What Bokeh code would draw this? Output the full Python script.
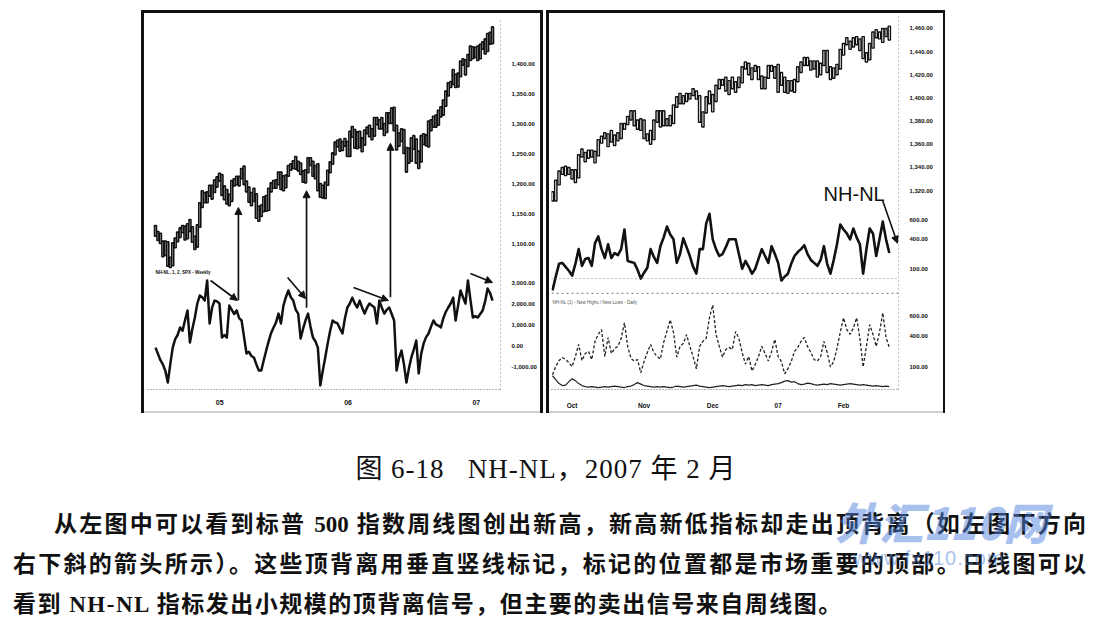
from bokeh.plotting import figure
from bokeh.models import Range1d, FixedTicker, Arrow, NormalHead, Label, Span, Spacer, Div
from bokeh.layouts import row, column
from bokeh.embed import file_html
from bokeh.resources import INLINE

# ---------------- data: weekly S&P 500 (left panel) ----------------
week_hi = [1130, 1120, 1117, 1104, 1104, 1103, 1077, 1101, 1109, 1119,
           1126, 1130, 1129, 1133, 1140, 1128, 1112, 1131, 1168, 1188,
           1185, 1186, 1197, 1197, 1206, 1211, 1217, 1215, 1196, 1190,
           1182, 1205, 1208, 1212, 1212, 1225, 1229, 1204, 1194, 1185,
           1192, 1183, 1162, 1164, 1178, 1180, 1192, 1201, 1205, 1206,
           1219, 1219, 1213, 1214, 1230, 1233, 1238, 1245, 1237, 1234,
           1221, 1223, 1243, 1243, 1237, 1230, 1233, 1200, 1197, 1202,
           1222, 1236, 1251, 1269, 1272, 1274, 1270, 1275, 1270, 1287,
           1295, 1290, 1286, 1287, 1276, 1289, 1294, 1297, 1291, 1310,
           1310, 1306, 1310, 1300, 1318, 1318, 1326, 1327, 1297, 1284,
           1291, 1290, 1260, 1259, 1276, 1280, 1274, 1254, 1280, 1283,
           1281, 1304, 1306, 1312, 1314, 1322, 1328, 1339, 1354, 1368,
           1370, 1390, 1382, 1384, 1404, 1408, 1406, 1415, 1429, 1428,
           1427, 1429, 1432, 1436, 1441, 1450, 1452, 1461]
week_lo = [1112, 1105, 1100, 1078, 1080, 1062, 1060, 1063, 1093, 1103,
           1110, 1118, 1106, 1108, 1120, 1102, 1090, 1094, 1127, 1160,
           1168, 1168, 1179, 1174, 1185, 1194, 1204, 1180, 1173, 1166,
           1163, 1170, 1196, 1198, 1196, 1208, 1198, 1186, 1169, 1163,
           1170, 1142, 1137, 1145, 1153, 1154, 1155, 1186, 1192, 1192,
           1198, 1190, 1188, 1193, 1212, 1222, 1225, 1224, 1221, 1215,
           1202, 1201, 1218, 1230, 1212, 1208, 1188, 1177, 1176, 1175,
           1197, 1218, 1232, 1248, 1261, 1254, 1255, 1262, 1245, 1245,
           1277, 1259, 1258, 1260, 1253, 1264, 1283, 1278, 1273, 1279,
           1298, 1291, 1291, 1280, 1285, 1300, 1300, 1288, 1256, 1262,
           1270, 1250, 1219, 1234, 1237, 1257, 1234, 1225, 1236, 1265,
           1263, 1261, 1288, 1294, 1294, 1297, 1311, 1314, 1329, 1346,
           1360, 1365, 1360, 1361, 1378, 1397, 1381, 1395, 1405, 1408,
           1410, 1405, 1408, 1424, 1416, 1420, 1432, 1433]
week_nhnl = [-100, -400, -700, -900, -1200, -1760, -900, -100, 300, 500,
             860, 700, 1200, 1670, 140, 800, 1330, 2000, 2380, 2300,
             2140, 3100, 1050, 1800, 2140, 2100, 2000, 380, 500, 380,
             1900, 1700, 1500, 1670, 1300, 1190, 400, -380, -300, -500,
             -570, -900, -1190, -1190, -700, -240, 200, 600, 860, 1100,
             1520, 1050, 1900, 2300, 2620, 2300, 2140, 1700, 1520, 330,
             800, 1200, 1520, 900, 380, 200, -100, -1900, -1200, -570,
             100, 700, 1190, 1100, 1050, 800, 570, 1300, 1810, 2000,
             2280, 2000, 1810, 2140, 1800, 1520, 1800, 2000, 1900, 1810,
             1050, 2140, 1800, 1520, 1700, 1810, 1500, 1190, -1190, -600,
             -240, -900, -1760, -1100, -570, -200, 240, -1330, -400, 100,
             400, 570, 900, 1190, 1000, 950, 860, 1300, 1600, 1810,
             2000, 2280, 1190, 1900, 2620, 2300, 2000, 3100, 2200, 1330,
             1400, 1330, 1500, 1670, 2100, 2710, 2500, 2140]
week_year_ticks = [26.1, 78.3, 130.4]
week_year_labels = ["05", "06", "07"]
left_price_ticks = [1100, 1150, 1200, 1250, 1300, 1350, 1400]
left_nhnl_ticks = [3000, 2000, 1000, 0, -1000]
# divergence markers (week index, NH-NL start, price tip)
div_weeks = [33.7, 61.4, 95.5]
div_nhnl = [2150, 1800, 2300]
div_price = [1160, 1188, 1267]
# slanted arrows: (week0, nhnl0, week1, nhnl1)
slant = [(22.4, 3095, 33.3, 2143), (53.7, 3238, 61.0, 2238),
         (80.5, 2762, 94.7, 2143), (128.0, 3429, 137.0, 3000)]

# ---------------- data: daily S&P 500 (right panel) ----------------
day_hi = [1319, 1329, 1337, 1340, 1341, 1340, 1338, 1338, 1351, 1356,
          1353, 1355, 1355, 1354, 1364, 1367, 1370, 1369, 1372, 1368,
          1370, 1378, 1378, 1384, 1389, 1389, 1381, 1382, 1381, 1369,
          1372, 1381, 1389, 1389, 1389, 1382, 1385, 1394, 1401, 1404,
          1402, 1404, 1404, 1408, 1406, 1402, 1388, 1401, 1406, 1403,
          1411, 1416, 1416, 1418, 1415, 1418, 1414, 1418, 1427, 1431,
          1430, 1426, 1428, 1427, 1419, 1418, 1428, 1428, 1427, 1429,
          1422, 1418, 1415, 1415, 1416, 1427, 1431, 1435, 1435, 1432,
          1432, 1432, 1430, 1441, 1441, 1427, 1426, 1429, 1442, 1447,
          1452, 1449, 1452, 1453, 1451, 1453, 1439, 1447, 1457, 1459,
          1457, 1460, 1460, 1462]
day_lo = [1311, 1311, 1325, 1334, 1333, 1334, 1330, 1327, 1331, 1349,
          1345, 1348, 1349, 1344, 1350, 1361, 1365, 1358, 1362, 1359,
          1363, 1365, 1373, 1377, 1381, 1376, 1373, 1372, 1365, 1363,
          1360, 1364, 1379, 1375, 1376, 1376, 1376, 1378, 1392, 1395,
          1395, 1397, 1399, 1402, 1399, 1379, 1375, 1387, 1395, 1388,
          1397, 1408, 1411, 1406, 1403, 1408, 1405, 1409, 1413, 1425,
          1420, 1416, 1423, 1416, 1408, 1408, 1417, 1423, 1417, 1405,
          1411, 1405, 1404, 1406, 1405, 1414, 1422, 1428, 1428, 1424,
          1425, 1418, 1420, 1428, 1422, 1416, 1417, 1420, 1425, 1437,
          1446, 1442, 1444, 1446, 1441, 1434, 1431, 1433, 1443, 1452,
          1451, 1448, 1453, 1450]
day_nhnl = [-120, 20, 150, 160, 120, 80, 30, 150, 300, 130,
            200, 210, 130, 360, 430, 300, 210, 350, 210, 260,
            240, 300, 500, 180, 170, 160, 90, 0, 60, 110,
            300, 220, 160, 330, 420, 530, 450, 400, 160, 250,
            410, 320, 230, 120, 50, 300, 300, 560, 660, 400,
            300, 230, 250, 320, 400, 400, 400, 250, 100, 180,
            120, 50, 100, 200, 300, 230, 160, 330, 250, 160,
            -20, 20, 50, 150, 230, 270, 300, 340, 250, 190,
            160, 130, 190, 330, 150, 50, 190, 350, 550, 500,
            460, 400, 510, 420, 350, 50, 300, 510, 460, 230,
            400, 580, 400, 260]
day_nh = [20, 100, 160, 190, 170, 140, 100, 200, 320, 160,
          230, 250, 170, 350, 420, 466, 200, 388, 230, 280,
          300, 380, 534, 300, 180, 155, 170, 40, 150, 240,
          320, 240, 200, 175, 340, 450, 563, 440, 194, 300,
          330, 417, 300, 200, 78, 300, 350, 380, 583, 709,
          420, 300, 194, 270, 290, 270, 447, 380, 240, 126,
          200, 58, 120, 200, 301, 230, 155, 250, 369, 200,
          150, 29, 80, 150, 250, 291, 350, 388, 300, 240,
          170, 155, 200, 350, 240, 97, 150, 280, 440, 583,
          466, 420, 480, 583, 380, 97, 300, 515, 420, 300,
          440, 631, 388, 291]
day_nl = [130, 90, 50, 30, 35, 70, 100, 80, 50, 30,
          20, 15, 20, 15, 10, 15, 20, 15, 20, 25,
          20, 15, 10, 20, 25, 40, 60, 45, 30, 25,
          20, 15, 20, 15, 20, 15, 10, 15, 25, 20,
          15, 20, 25, 30, 35, 25, 20, 15, 10, 15,
          20, 25, 30, 25, 20, 25, 30, 35, 30, 40,
          35, 40, 30, 35, 40, 35, 30, 40, 45, 50,
          60, 75, 80, 65, 70, 50, 40, 45, 55, 50,
          40, 35, 40, 45, 40, 50, 45, 40, 35, 40,
          45, 50, 45, 40, 35, 40, 35, 30, 25, 30,
          25, 20, 25, 20]
day_month_ticks = [6, 28, 49, 69, 89]
day_month_labels = ["Oct", "Nov", "Dec", "07", "Feb"]
right_price_ticks = [1320, 1340, 1360, 1380, 1400, 1420, 1440, 1460]
right_nhnl_ticks = [600, 400, 100]
right_nh_ticks = [600, 400, 100]

caption = "图 6-18   NH-NL，2007 年 2 月"
para_lines = [
    "从左图中可以看到标普 500 指数周线图创出新高，新高新低指标却走出顶背离（如左图下方向",
    "右下斜的箭头所示）。这些顶背离用垂直竖线标记，标记的位置都是市场重要的顶部。日线图可以",
    "看到 NH-NL 指标发出小规模的顶背离信号，但主要的卖出信号来自周线图。",
]

FONT = "Liberation Sans"
INK = "#111111"


def remap(v, src, dst):
    return round(dst.start + (v - src.start) * (dst.end - dst.start) / (src.end - src.start), 6)


def fmt(v):
    return f"{v:,.2f}"


def base_fig(w, h, xr, yr, mbl, mbr, mbt, mbb):
    p = figure(width=w, height=h, x_range=xr, y_range=yr, y_axis_location="right",
               output_backend="svg", toolbar_location=None,
               min_border_left=mbl, min_border_right=mbr,
               min_border_top=mbt, min_border_bottom=mbb)
    p.grid.visible = False
    p.outline_line_color = None
    p.background_fill_color = "white"
    p.border_fill_color = "white"
    for ax in (p.xaxis[0], p.yaxis[0]):
        ax.major_tick_line_color = None
        ax.minor_tick_line_color = None
        ax.major_label_text_font = FONT
        ax.major_label_text_font_style = "bold"
        ax.major_label_text_color = INK
    p.yaxis[0].axis_line_color = "#888888"
    p.yaxis[0].axis_line_dash = "1 3"
    p.yaxis[0].major_label_text_font_size = "6px"
    p.yaxis[0].major_label_standoff = 5
    p.xaxis[0].axis_line_color = "#666666"
    p.xaxis[0].axis_line_dash = "1 2"
    p.xaxis[0].major_label_text_font_size = "7px"
    p.xaxis[0].major_label_standoff = 4
    return p


def bar(w, h, color=INK):
    """A solid strip used for the scanned panel borders."""
    return Spacer(width=w, height=h, styles={"background-color": color})


def value_box(p, x, y, txt, yname="default"):
    p.add_layout(Label(x=x, y=y, y_range_name=yname, text=txt, text_font=FONT,
                       text_font_size="5px", text_font_style="bold", text_color="white",
                       text_baseline="middle", background_fill_color="black",
                       padding=2))


def head():
    return NormalHead(size=7, fill_color=INK, line_color=INK, line_width=1)


# ---------------- left panel (weekly) ----------------
weeks = list(range(len(week_hi)))
lp = base_fig(396, 398, Range1d(-3.252, 140.24), Range1d(856.67, 1475.0), 3, 40, 5, 22)
lp.extra_y_ranges = {"nhw": Range1d(-2095.2, 15571.4)}

lp.vbar(x=weeks, bottom=week_lo, top=week_hi, width=0.8,
        fill_color="white", line_color=INK, line_width=1.6)
lp.line(weeks, week_nhnl, y_range_name="nhw", line_color=INK, line_width=2.5, line_join="round")

lticks = list(left_price_ticks)
llabels = {t: fmt(t) for t in left_price_ticks}
for v in left_nhnl_ticks:
    t = remap(v, lp.extra_y_ranges["nhw"], lp.y_range)
    lticks.append(t)
    llabels[t] = fmt(v)
lp.yaxis[0].ticker = FixedTicker(ticks=lticks)
lp.yaxis[0].major_label_overrides = llabels
lp.xaxis[0].ticker = FixedTicker(ticks=week_year_ticks)
lp.xaxis[0].major_label_overrides = dict(zip(week_year_ticks, week_year_labels))

for wk, v, pr in zip(div_weeks, div_nhnl, div_price):
    lp.add_layout(Arrow(end=head(), x_start=wk, y_start=remap(v, lp.extra_y_ranges["nhw"], lp.y_range),
                        x_end=wk, y_end=pr, line_color=INK, line_width=1.7))
for (x0, v0, x1, v1) in slant:
    lp.add_layout(Arrow(end=head(), x_start=x0, y_start=v0, x_end=x1, y_end=v1,
                        y_range_name="nhw", line_color=INK, line_width=1.7))

lp.add_layout(Label(x=0, y=3470, y_range_name="nhw", text="NH-NL, 1, 2, SPX - Weekly",
                    text_font=FONT, text_font_size="4.5px", text_font_style="bold",
                    text_color=INK, text_baseline="middle"))
value_box(lp, 142.3, week_hi[-1] - 6, fmt(week_hi[-1] - 5))
value_box(lp, 142.3, week_nhnl[-1] + 500, fmt(week_nhnl[-1]), "nhw")

# ---------------- right panel (daily) ----------------
days = list(range(len(day_hi)))
rp = base_fig(394, 398, Range1d(-0.306, 105.81), Range1d(1148.31, 1470.34), 2, 45, 3, 15)
rp.extra_y_ranges = {"nhd": Range1d(-1130, 2670), "nh": Range1d(-126.2, 3563),
                     "nl": Range1d(-10, 3790)}

rp.vbar(x=days, bottom=day_lo, top=day_hi, width=0.7,
        fill_color="white", line_color=INK, line_width=1.4)
rp.add_layout(Span(location=0, dimension="width", y_range_name="nhd",
                   line_color="#777777", line_dash="1 3", line_width=1))
rp.add_layout(Span(location=-150, dimension="width", y_range_name="nhd",
                   line_color="#777777", line_dash="2 3", line_width=1))
rp.line(days, day_nhnl, y_range_name="nhd", line_color=INK, line_width=2.6, line_join="round")
rp.line(days, day_nh, y_range_name="nh", line_color="#222222", line_width=1.3, line_dash="3 2")
rp.line(days, day_nl, y_range_name="nl", line_color="#222222", line_width=1.2)

rticks = list(right_price_ticks)
rlabels = {t: fmt(t) for t in right_price_ticks}
for v in right_nhnl_ticks:
    t = remap(v, rp.extra_y_ranges["nhd"], rp.y_range)
    rticks.append(t)
    rlabels[t] = fmt(v)
for v in right_nh_ticks:
    t = remap(v, rp.extra_y_ranges["nh"], rp.y_range)
    rticks.append(t)
    rlabels[t] = fmt(v)
rp.yaxis[0].ticker = FixedTicker(ticks=rticks)
rp.yaxis[0].major_label_overrides = rlabels
rp.xaxis[0].ticker = FixedTicker(ticks=day_month_ticks)
rp.xaxis[0].major_label_overrides = dict(zip(day_month_ticks, day_month_labels))
rp.xaxis[0].major_label_text_font_size = "6.5px"
rp.xaxis[0].major_label_standoff = 6

rp.add_layout(Label(x=0, y=-240, y_range_name="nhd", text="NH-NL (1) - New Highs / New Lows - Daily",
                    text_font=FONT, text_font_size="4.5px", text_color="#555555",
                    text_baseline="middle"))
rp.add_layout(Label(x=82.9, y=860, y_range_name="nhd", text="NH-NL", text_font=FONT,
                    text_font_size="20px", text_color=INK, text_baseline="alphabetic"))
rp.add_layout(Arrow(end=head(), x_start=100.9, y_start=800, x_end=105.5, y_end=360,
                    y_range_name="nhd", line_color=INK, line_width=1.6))

value_box(rp, 107.3, day_hi[-1] - 10, fmt(day_hi[-1] - 6))
value_box(rp, 107.3, day_nhnl[-1], fmt(day_nhnl[-1]), "nhd")
value_box(rp, 107.3, 50, "0.00", "nhd")
value_box(rp, 107.3, -60, "50.00 Avg", "nhd")
value_box(rp, 107.3, -170, "Freq 1.00", "nhd")
value_box(rp, 107.3, day_nh[-1] + 20, fmt(day_nh[-1]), "nh")
value_box(rp, 107.3, day_nl[-1] + 10, "20,000.00", "nl")

# ---------------- caption + paragraph ----------------
TXT = "'Liberation Serif', 'Noto Sans CJK SC', serif"
html = (
    f'<div style="position:relative;width:1092px;height:210px;font-family:{TXT};color:#111;">'
    f'<div style="position:absolute;left:-5px;top:36px;width:1092px;text-align:center;'
    f'font-size:27px;line-height:30px;letter-spacing:1px;white-space:pre;">{caption}</div>'
    f'<div style="position:absolute;left:49px;top:93px;width:1032px;font-size:23px;line-height:28px;'
    f'font-weight:bold;text-align:justify;text-align-last:justify;white-space:nowrap;">{para_lines[0]}</div>'
    f'<div style="position:absolute;left:8px;top:133px;width:1073px;font-size:23px;line-height:28px;'
    f'font-weight:bold;text-align:justify;text-align-last:justify;white-space:nowrap;">{para_lines[1]}</div>'
    f'<div style="position:absolute;left:8px;top:173px;font-size:23px;line-height:28px;'
    f'font-weight:bold;letter-spacing:1.5px;white-space:nowrap;">{para_lines[2]}</div>'
    f'<div style="position:absolute;left:830px;top:78px;font-family:\'Noto Sans CJK SC\';font-size:44px;'
    f'line-height:50px;font-weight:900;font-style:italic;color:rgba(80,130,220,0.5);white-space:nowrap;">外汇110网</div>'
    f'<div style="position:absolute;left:848px;top:128px;font-family:\'Liberation Sans\';font-size:20px;'
    f'line-height:24px;letter-spacing:1px;color:rgba(80,130,220,0.5);white-space:nowrap;">www.fx110.com</div>'
    '</div>'
)
text_div = Div(text=html, width=1092, height=210)

FAINT = "#cfcfcf"
left_block = column(bar(396, 3), lp, bar(396, 2, FAINT))
right_block = column(bar(394, 3), rp, bar(394, 2, FAINT))
top = row(Spacer(width=141, height=403), bar(3, 403), left_block, bar(3, 403),
          Spacer(width=3, height=403), bar(3, 403), right_block, bar(2, 403))
page = column(Spacer(width=1092, height=10), top, text_div)

open("out.html", "w").write(file_html(page, INLINE))
